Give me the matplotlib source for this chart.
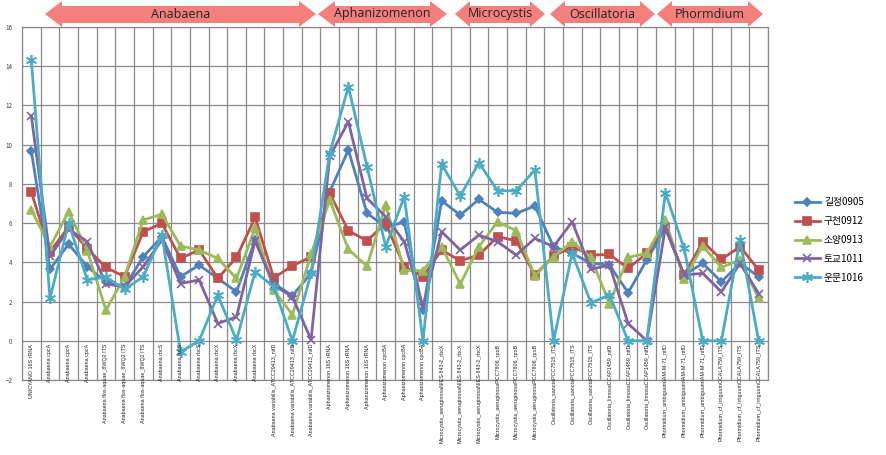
import numpy as np
import matplotlib
matplotlib.use("Agg")
import matplotlib.pyplot as plt
from matplotlib.patches import Polygon

plt.rcParams["font.family"] = ["Noto Sans CJK KR", "DejaVu Sans"]

# Category labels (x axis)
labels = (
    ["UNICYANO 16S rRNA"]
    + ["Anabaena cpcA"] * 3
    + ["Anabaena flos-aquae_8WQ2 ITS"] * 3
    + ["Anabaena rbcS"] * 3
    + ["Anabaena rbcX"] * 3
    + ["Anabaena variabilis_ATCC29413_nifD"] * 3
    + ["Aphanizomenon 16S rRNA"] * 3
    + ["Aphanizomenon cpcBA"] * 3
    + ["Microcystis_aeruginosaNIES-843-2_rbcX"] * 3
    + ["Microcystis_aeruginosaPCC7806_rpoB"] * 3
    + ["Oscillatoria_sanctaPCC7515_ITS"] * 3
    + ["Oscillatoria_limosaCCAP1459_nifD"] * 3
    + ["Phormidium_ambiguumIAM-M-71_nifD"] * 3
    + ["Phormidium_cf_irriguumCCALA759_ITS"] * 3
)

# Series values
gilj_0905 = [9.68, 3.64, 4.93, 3.78, 3.0, 2.75, 4.29, 5.3, 3.27, 3.86,
             3.18, 2.5, 5.14, 2.92, 2.3, 3.45, 7.6, 9.73, 6.5, 5.82,
             6.04, 1.56, 7.14, 6.41, 7.21, 6.55, 6.5, 6.87, 4.8, 4.46,
             3.95, 3.86, 2.45, 4.12, 5.73, 3.35, 3.95, 3.01, 3.95, 3.27]
gucheon_0912 = [7.59, 4.54, 5.8, 4.7, 3.74, 3.27, 5.56, 5.99, 4.2, 4.63,
                3.18, 4.25, 6.29, 3.21, 3.83, 4.27, 7.52, 5.61, 5.1, 5.99,
                3.78, 3.27, 4.63, 4.08, 4.37, 5.31, 5.1, 3.35, 4.32, 4.8,
                4.37, 4.4, 3.69, 4.46, 5.82, 3.35, 5.05, 4.15, 4.8, 3.61]
soyang_0913 = [6.67, 4.8, 6.58, 4.6, 1.56, 3.27, 6.16, 6.45, 4.83, 4.63,
               4.2, 3.18, 5.73, 2.58, 1.33, 4.4, 7.18, 4.66, 3.81, 6.92,
               3.6, 3.57, 4.8, 2.89, 4.8, 6.07, 5.61, 3.3, 4.29, 5.05,
               4.25, 1.9, 4.25, 4.46, 6.16, 3.13, 4.83, 3.74, 4.12, 2.16]
togyo_1011 = [11.46, 4.3, 5.7, 5.05, 2.9, 2.75, 3.78, 5.14, 2.92, 3.1,
              0.88, 1.22, 5.1, 2.84, 2.24, 0.05, 9.4, 11.17, 7.26, 6.33,
              5.05, 1.73, 5.56, 4.63, 5.39, 5.05, 4.37, 5.22, 4.8, 6.07,
              3.64, 3.86, 0.88, 0.0, 5.8, 3.35, 3.44, 2.5, 3.95, 2.41]
unmun_1016 = [14.32, 2.16, 6.0, 3.1, 3.26, 2.62, 3.27, 5.39, -0.56, 0.0,
              2.33, 0.03, 3.52, 2.75, 0.0, 3.44, 9.56, 12.96, 8.88, 4.8,
              7.35, 0.0, 9.01, 7.38, 9.08, 7.65, 7.65, 8.71, 0.0, 4.46,
              1.94, 2.33, 0.0, 0.0, 7.55, 4.71, 0.0, 0.0, 5.14, 0.0]

series_names = ["길정0905", "구천0912", "소양0913", "토교1011", "운문1016"]
series_data = [gilj_0905, gucheon_0912, soyang_0913, togyo_1011, unmun_1016]
colors = ["#4F81BD", "#C0504D", "#9BBB59", "#8064A2", "#4BACC6"]
markers = ["D", "s", "^", "x", (6, 2, 0)]
msizes = [4, 6, 6, 6, 8]

# Group header arrows: (name, left tip px, right tip px)
groups = ["Anabaena", "Aphanizomenon", "Microcystis", "Oscillatoria", "Phormdium"]
group_spans = [(45, 316), (318, 447), (455, 545), (550, 655), (657, 763)]

W, H = 886, 455
fig = plt.figure(figsize=(W / 100, H / 100), dpi=100)
ax = fig.add_axes([22 / W, 1 - 380 / H, (768 - 22) / W, (380 - 27) / H])

x = np.arange(len(labels))
for name, vals, c, m, ms in zip(series_names, series_data, colors, markers, msizes):
    ax.plot(x, vals, color=c, lw=2.0, marker=m, ms=ms, mec=c, mfc=c,
            mew=1.2, label=name, zorder=3)

ax.set_xlim(-0.5, len(labels) - 0.5)
ax.set_ylim(-2, 16)
ax.set_yticks(np.arange(-2, 17, 2))
ax.set_xticks(np.arange(len(labels) + 1) - 0.5)
ax.set_xticklabels([])
ax.tick_params(axis="both", length=0, labelsize=4.5, pad=7, colors="#444444")
ax.grid(True, color="#8a8a8a", lw=0.9)
for sp in ax.spines.values():
    sp.set_color("#8a8a8a")
    sp.set_linewidth(0.9)

for i, lab in enumerate(labels):
    ax.text(i, -0.15, lab, rotation=90, ha="center", va="top", fontsize=3.9,
            family=["Liberation Sans", "DejaVu Sans"], color="#222222",
            clip_on=False, zorder=4)


# header arrows drawn in pixel coordinates
def px(xp, yp):
    return (xp / W, 1 - yp / H)


for name, (x0, x1) in zip(groups, group_spans):
    head = 17 if (x1 - x0) > 120 else 15
    ymid, body_t, body_b, head_t, head_b = 14, 6, 23, 1, 27
    pts = [px(x0, ymid), px(x0 + head, head_t), px(x0 + head, body_t),
           px(x1 - head, body_t), px(x1 - head, head_t), px(x1, ymid),
           px(x1 - head, head_b), px(x1 - head, body_b),
           px(x0 + head, body_b), px(x0 + head, head_b)]
    fig.patches.append(Polygon(pts, closed=True, transform=fig.transFigure,
                               facecolor="#F47F7C", edgecolor="none"))
    fig.text((x0 + x1) / 2 / W, 1 - 14 / H, name, ha="center", va="center",
             fontsize=9, color="#222222", family=["Open Sans", "DejaVu Sans"])

fig.legend(loc="center left", bbox_to_anchor=(786 / W, 1 - 240 / H),
           bbox_transform=fig.transFigure, frameon=False, fontsize=7,
           handlelength=2.6, labelspacing=0.9, handletextpad=0.4)

fig.savefig("out.png", dpi=100)
